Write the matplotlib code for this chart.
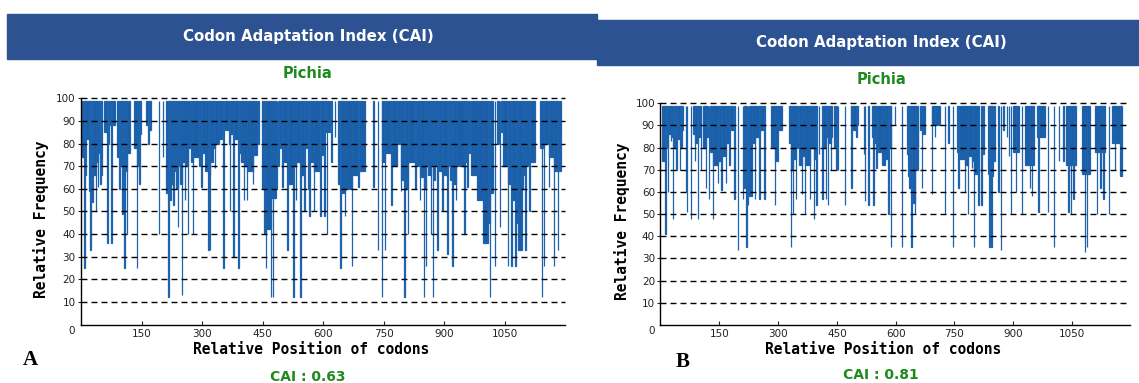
import matplotlib
matplotlib.use("Agg")
import matplotlib.pyplot as plt
from matplotlib.patches import Rectangle

# --- data: runs of codons (start, end) and the relative frequency they drop to ---
a_start = [2, 8, 9, 13, 20, 21, 23, 24, 28, 29, 36, 37, 42, 43, 48, 50, 57, 65, 66, 69, 75, 76,
           90, 95, 96, 102, 103, 107, 108, 113, 114, 132, 138, 139, 144, 145, 161, 167, 168, 192, 203,
           211, 216, 217, 223, 228, 229, 236, 240, 241, 245, 250, 251, 257, 258, 265, 266, 273, 277,
           278, 291, 298, 299, 307, 315, 316, 319, 320, 327, 332, 333, 341, 352, 356, 366, 369, 370,
           377, 378, 390, 391, 396, 403, 404, 411, 412, 426, 427, 438, 448, 453, 457, 458, 470, 471,
           475, 476, 485, 489, 491, 499, 500, 511, 512, 526, 527, 532, 533, 543, 544, 553, 554, 562,
           565, 566, 576, 577, 593, 594, 603, 605, 609, 620, 628, 637, 642, 643, 653, 654, 670, 671,
           687, 688, 724, 735, 745, 746, 753, 754, 769, 770, 783, 792, 793, 801, 802, 809, 810, 828,
           832, 839, 840, 849, 850, 854, 855, 859, 866, 867, 872, 873, 878, 883, 884, 895, 896, 907,
           908, 913, 920, 921, 929, 930, 949, 950, 957, 958, 966, 981, 996, 1009, 1013, 1014, 1025,
           1030, 1037, 1040, 1046, 1058, 1059, 1066, 1067, 1076, 1077, 1082, 1092, 1096, 1101, 1102,
           1111, 1112, 1137, 1141, 1142, 1146, 1147, 1159, 1160, 1171, 1172, 1181, 1182]
a_end = [7, 8, 12, 19, 20, 22, 23, 27, 28, 35, 36, 41, 42, 47, 48, 50, 64, 65, 68, 74, 75, 82,
         94, 95, 101, 102, 106, 107, 112, 113, 119, 137, 138, 143, 144, 148, 166, 167, 173, 192, 203,
         215, 216, 222, 227, 228, 235, 239, 240, 244, 249, 250, 256, 257, 264, 265, 272, 276, 277,
         290, 297, 298, 306, 314, 315, 318, 319, 326, 331, 332, 340, 348, 352, 365, 368, 369, 376,
         377, 389, 390, 395, 402, 403, 410, 411, 425, 426, 436, 441, 452, 456, 457, 469, 470, 474,
         475, 482, 485, 489, 498, 499, 510, 511, 525, 526, 531, 532, 542, 543, 552, 553, 558, 564,
         565, 575, 576, 592, 593, 600, 603, 615, 609, 620, 628, 641, 642, 652, 653, 669, 670, 686,
         687, 703, 724, 735, 745, 752, 753, 768, 769, 781, 791, 792, 800, 801, 808, 809, 824, 828,
         838, 839, 848, 849, 853, 854, 858, 865, 866, 871, 872, 877, 882, 883, 894, 895, 906, 907,
         912, 919, 920, 928, 929, 948, 949, 956, 957, 962, 980, 995, 1008, 1012, 1013, 1020, 1025,
         1035, 1037, 1045, 1055, 1058, 1065, 1066, 1075, 1076, 1081, 1091, 1095, 1100, 1101, 1110,
         1111, 1124, 1140, 1141, 1145, 1146, 1158, 1159, 1170, 1171, 1180, 1181, 1187]
a_value = [74, 25, 66, 82, 59, 76, 33, 70, 54, 66, 50, 72, 61, 76, 62, 66, 85, 36, 80, 88, 36, 88,
           74, 60, 70, 49, 68, 25, 68, 40, 76, 78, 25, 70, 62, 84, 88, 80, 86, 40, 74,
           58, 12, 55, 62, 53, 68, 60, 43, 70, 62, 13, 72, 55, 70, 40, 78, 72, 40,
           74, 70, 61, 76, 68, 33, 66, 33, 72, 78, 69, 80, 82, 25, 86, 80, 50, 84,
           30, 82, 25, 76, 72, 55, 70, 55, 68, 62, 75, 80, 60, 40, 25, 42, 12, 56,
           12, 56, 60, 70, 78, 61, 72, 33, 62, 12, 70, 55, 72, 12, 66, 50, 78, 60,
           48, 72, 50, 68, 48, 75, 48, 85, 40, 72, 83, 62, 25, 58, 48, 60, 26, 66,
           61, 68, 61, 33, 12, 72, 33, 76, 53, 70, 80, 59, 64, 12, 60, 40, 72, 60,
           70, 55, 65, 12, 60, 26, 70, 66, 40, 70, 12, 64, 70, 33, 68, 50, 66, 31,
           70, 64, 26, 62, 55, 70, 40, 72, 61, 76, 66, 55, 36, 45, 12, 58, 26,
           80, 43, 85, 70, 26, 62, 26, 55, 26, 45, 33, 60, 66, 33, 70,
           50, 72, 78, 12, 78, 26, 80, 61, 74, 26, 68, 33, 68]

b_start = [5, 12, 13, 18, 19, 27, 28, 31, 35, 40, 41, 49, 50, 53, 54, 65, 67, 77, 82, 87, 88, 95,
           96, 103, 108, 116, 117, 124, 126, 134, 135, 146, 147, 155, 156, 167, 168, 176, 177, 188,
           197, 210, 212, 219, 223, 227, 234, 240, 241, 252, 253, 265, 283, 291, 292, 301, 329, 332,
           333, 338, 339, 346, 347, 354, 360, 361, 368, 369, 381, 382, 391, 392, 398, 404, 413, 415,
           422, 423, 427, 428, 434, 436, 443, 449, 453, 470, 485, 487, 488, 500, 501, 518, 522, 530,
           539, 543, 544, 551, 552, 565, 574, 581, 582, 587, 598, 615, 628, 632, 633, 640, 641, 649,
           650, 656, 661, 666, 667, 692, 693, 700, 701, 725, 734, 746, 756, 760, 761, 777, 778, 784,
           785, 794, 795, 800, 801, 811, 819, 824, 835, 839, 844, 847, 852, 862, 869, 875, 883, 888,
           894, 900, 906, 922, 931, 943, 947, 960, 964, 988, 1003, 1016, 1028, 1035, 1041, 1047,
           1053, 1075, 1082, 1088, 1109, 1113, 1122, 1130, 1144, 1152, 1159, 1173]
b_end = [11, 12, 17, 18, 26, 27, 30, 31, 38, 40, 48, 49, 52, 53, 57, 65, 67, 77, 86, 87, 94, 95,
         102, 103, 115, 116, 121, 124, 133, 134, 145, 146, 154, 155, 166, 167, 175, 176, 184, 188,
         197, 210, 217, 219, 223, 233, 239, 240, 251, 252, 264, 265, 290, 291, 300, 308, 331, 332,
         337, 338, 345, 346, 350, 359, 360, 367, 368, 380, 381, 390, 391, 395, 398, 404, 414, 421,
         422, 426, 427, 433, 434, 437, 443, 449, 453, 470, 486, 487, 499, 500, 504, 518, 522, 530,
         542, 543, 550, 551, 563, 573, 580, 581, 586, 587, 598, 615, 631, 632, 639, 640, 648, 649,
         655, 656, 665, 666, 675, 692, 699, 700, 713, 725, 734, 746, 759, 760, 776, 777, 783, 784,
         793, 794, 799, 800, 810, 811, 819, 824, 846, 839, 844, 847, 852, 862, 869, 875, 883, 888,
         894, 914, 906, 922, 952, 943, 947, 981, 964, 988, 1003, 1016, 1028, 1058, 1041, 1047,
         1053, 1096, 1082, 1088, 1134, 1113, 1122, 1130, 1144, 1173, 1159, 1176]
b_value = [74, 41, 80, 60, 86, 83, 85, 48, 80, 70, 84, 70, 85, 80, 88, 60, 51, 48, 86, 74, 82, 48,
           85, 70, 80, 62, 85, 57, 78, 48, 72, 64, 74, 61, 76, 64, 82, 72, 88, 57,
           34, 57, 62, 35, 54, 58, 82, 57, 85, 57, 88, 57, 80, 54, 74, 88, 82, 35,
           70, 50, 75, 57, 80, 72, 59, 76, 50, 72, 57, 80, 48, 75, 54, 77, 57, 80,
           57, 85, 54, 82, 70, 85, 80, 70, 70, 54, 90, 62, 88, 85, 90, 77, 56, 54,
           85, 54, 82, 71, 78, 72, 75, 50, 80, 35, 90, 35, 77, 67, 62, 35, 55, 50,
           70, 80, 88, 62, 86, 59, 90, 85, 90, 50, 82, 35, 78, 62, 75, 60, 72, 50,
           76, 71, 74, 35, 68, 54, 54, 77, 68, 35, 35, 67, 74, 60, 34, 88, 85, 76,
           50, 78, 60, 50, 72, 62, 58, 85, 51, 51, 35, 74, 74, 72, 51, 50,
           57, 68, 33, 35, 78, 50, 62, 57, 50, 82, 70, 67]

panels = [
    dict(start=a_start, end=a_end, value=a_value, cai="CAI : 0.63", letter="A"),
    dict(start=b_start, end=b_end, value=b_value, cai="CAI : 0.81", letter="B"),
]
xticks = [150, 300, 450, 600, 750, 900, 1050]
yticks = [10, 20, 30, 40, 50, 60, 70, 80, 90, 100]

W, H = 1139, 383
HEADER = "#2c5292"
GREEN = "#1f8a1f"
BAR = "#1b5fa8"


def fx(x):
    return x / W


def fy(y):
    return 1 - y / H


fig = plt.figure(figsize=(W / 100, H / 100), dpi=100)

# pixel layout of each panel: header box, axes box (left, right, y of 0, y of 100), text anchors
layout = [
    dict(header=(7, 14, 597, 59), ax=(81.1, 565, 324.5, 98.3), xmax=1199,
         cx=308, pichia_y=73, ylab_x=41, ylab_y=219, xlab=(311, 350), cai_y=377,
         letter=(30, 360), zero=(72, 331)),
    dict(header=(597, 20, 1139, 65), ax=(660.5, 1130, 324.9, 103.3), xmax=1198,
         cx=881, pichia_y=79, ylab_x=622, ylab_y=221, xlab=(883, 349), cai_y=375,
         letter=(683, 362), zero=(652, 331)),
]

for p, L in zip(panels, layout):
    x0, y0, x1, y1 = L["header"]
    fig.patches.append(Rectangle((fx(x0), fy(y1)), (x1 - x0) / W, (y1 - y0) / H,
                                 transform=fig.transFigure, color=HEADER, zorder=0))
    fig.text(fx(L["cx"]), fy((y0 + y1) / 2), "Codon Adaptation Index (CAI)", color="white",
             fontsize=10.8, fontweight="bold", ha="center", va="center")
    fig.text(fx(L["cx"]), fy(L["pichia_y"]), "Pichia", color=GREEN, fontsize=10.5,
             fontweight="bold", ha="center", va="center")

    left, right, ybot, ytop = L["ax"]
    ax = fig.add_axes([fx(left), fy(ybot), (right - left) / W, (ybot - ytop) / H])
    widths = [e - s + 1 for s, e in zip(p["start"], p["end"])]
    heights = [99 - v for v in p["value"]]
    ax.bar(p["start"], heights, width=widths, bottom=p["value"], align="edge",
           color=BAR, edgecolor="#1e63ad", linewidth=0.9, zorder=2)
    for yv in yticks:
        ax.axhline(yv, color="black", linewidth=1.0, linestyle=(0, (4.3, 2.9)), zorder=3,
                   clip_on=False)
    ax.set_xlim(0, L["xmax"])
    ax.set_ylim(0, 100)
    ax.set_xticks(xticks)
    ax.set_yticks(yticks)
    ax.tick_params(axis="x", direction="in", length=3, pad=3, labelsize=7.5, colors="#222222")
    ax.tick_params(axis="y", direction="out", length=2, pad=2, labelsize=7.5, colors="#222222")
    for s in ("top", "right"):
        ax.spines[s].set_visible(False)
    for s in ("left", "bottom"):
        ax.spines[s].set_linewidth(1.0)
    ax.set_facecolor("none")

    fig.text(fx(L["zero"][0]), fy(L["zero"][1]), "0", fontsize=7.5, color="#222222",
             ha="center", va="center")
    fig.text(fx(L["ylab_x"]), fy(L["ylab_y"]), "Relative Frequency", rotation=90,
             family="DejaVu Sans Mono", fontweight="bold", fontsize=10.5, ha="center", va="center")
    fig.text(fx(L["xlab"][0]), fy(L["xlab"][1]), "Relative Position of codons",
             family="DejaVu Sans Mono", fontweight="bold", fontsize=10.5, ha="center", va="center")
    fig.text(fx(L["cx"]), fy(L["cai_y"]), p["cai"], color=GREEN, fontsize=10,
             fontweight="bold", ha="center", va="center")
    fig.text(fx(L["letter"][0]), fy(L["letter"][1]), p["letter"], family="Liberation Serif",
             fontweight="bold", fontsize=15, ha="center", va="center")

fig.savefig("out.png", dpi=100)
